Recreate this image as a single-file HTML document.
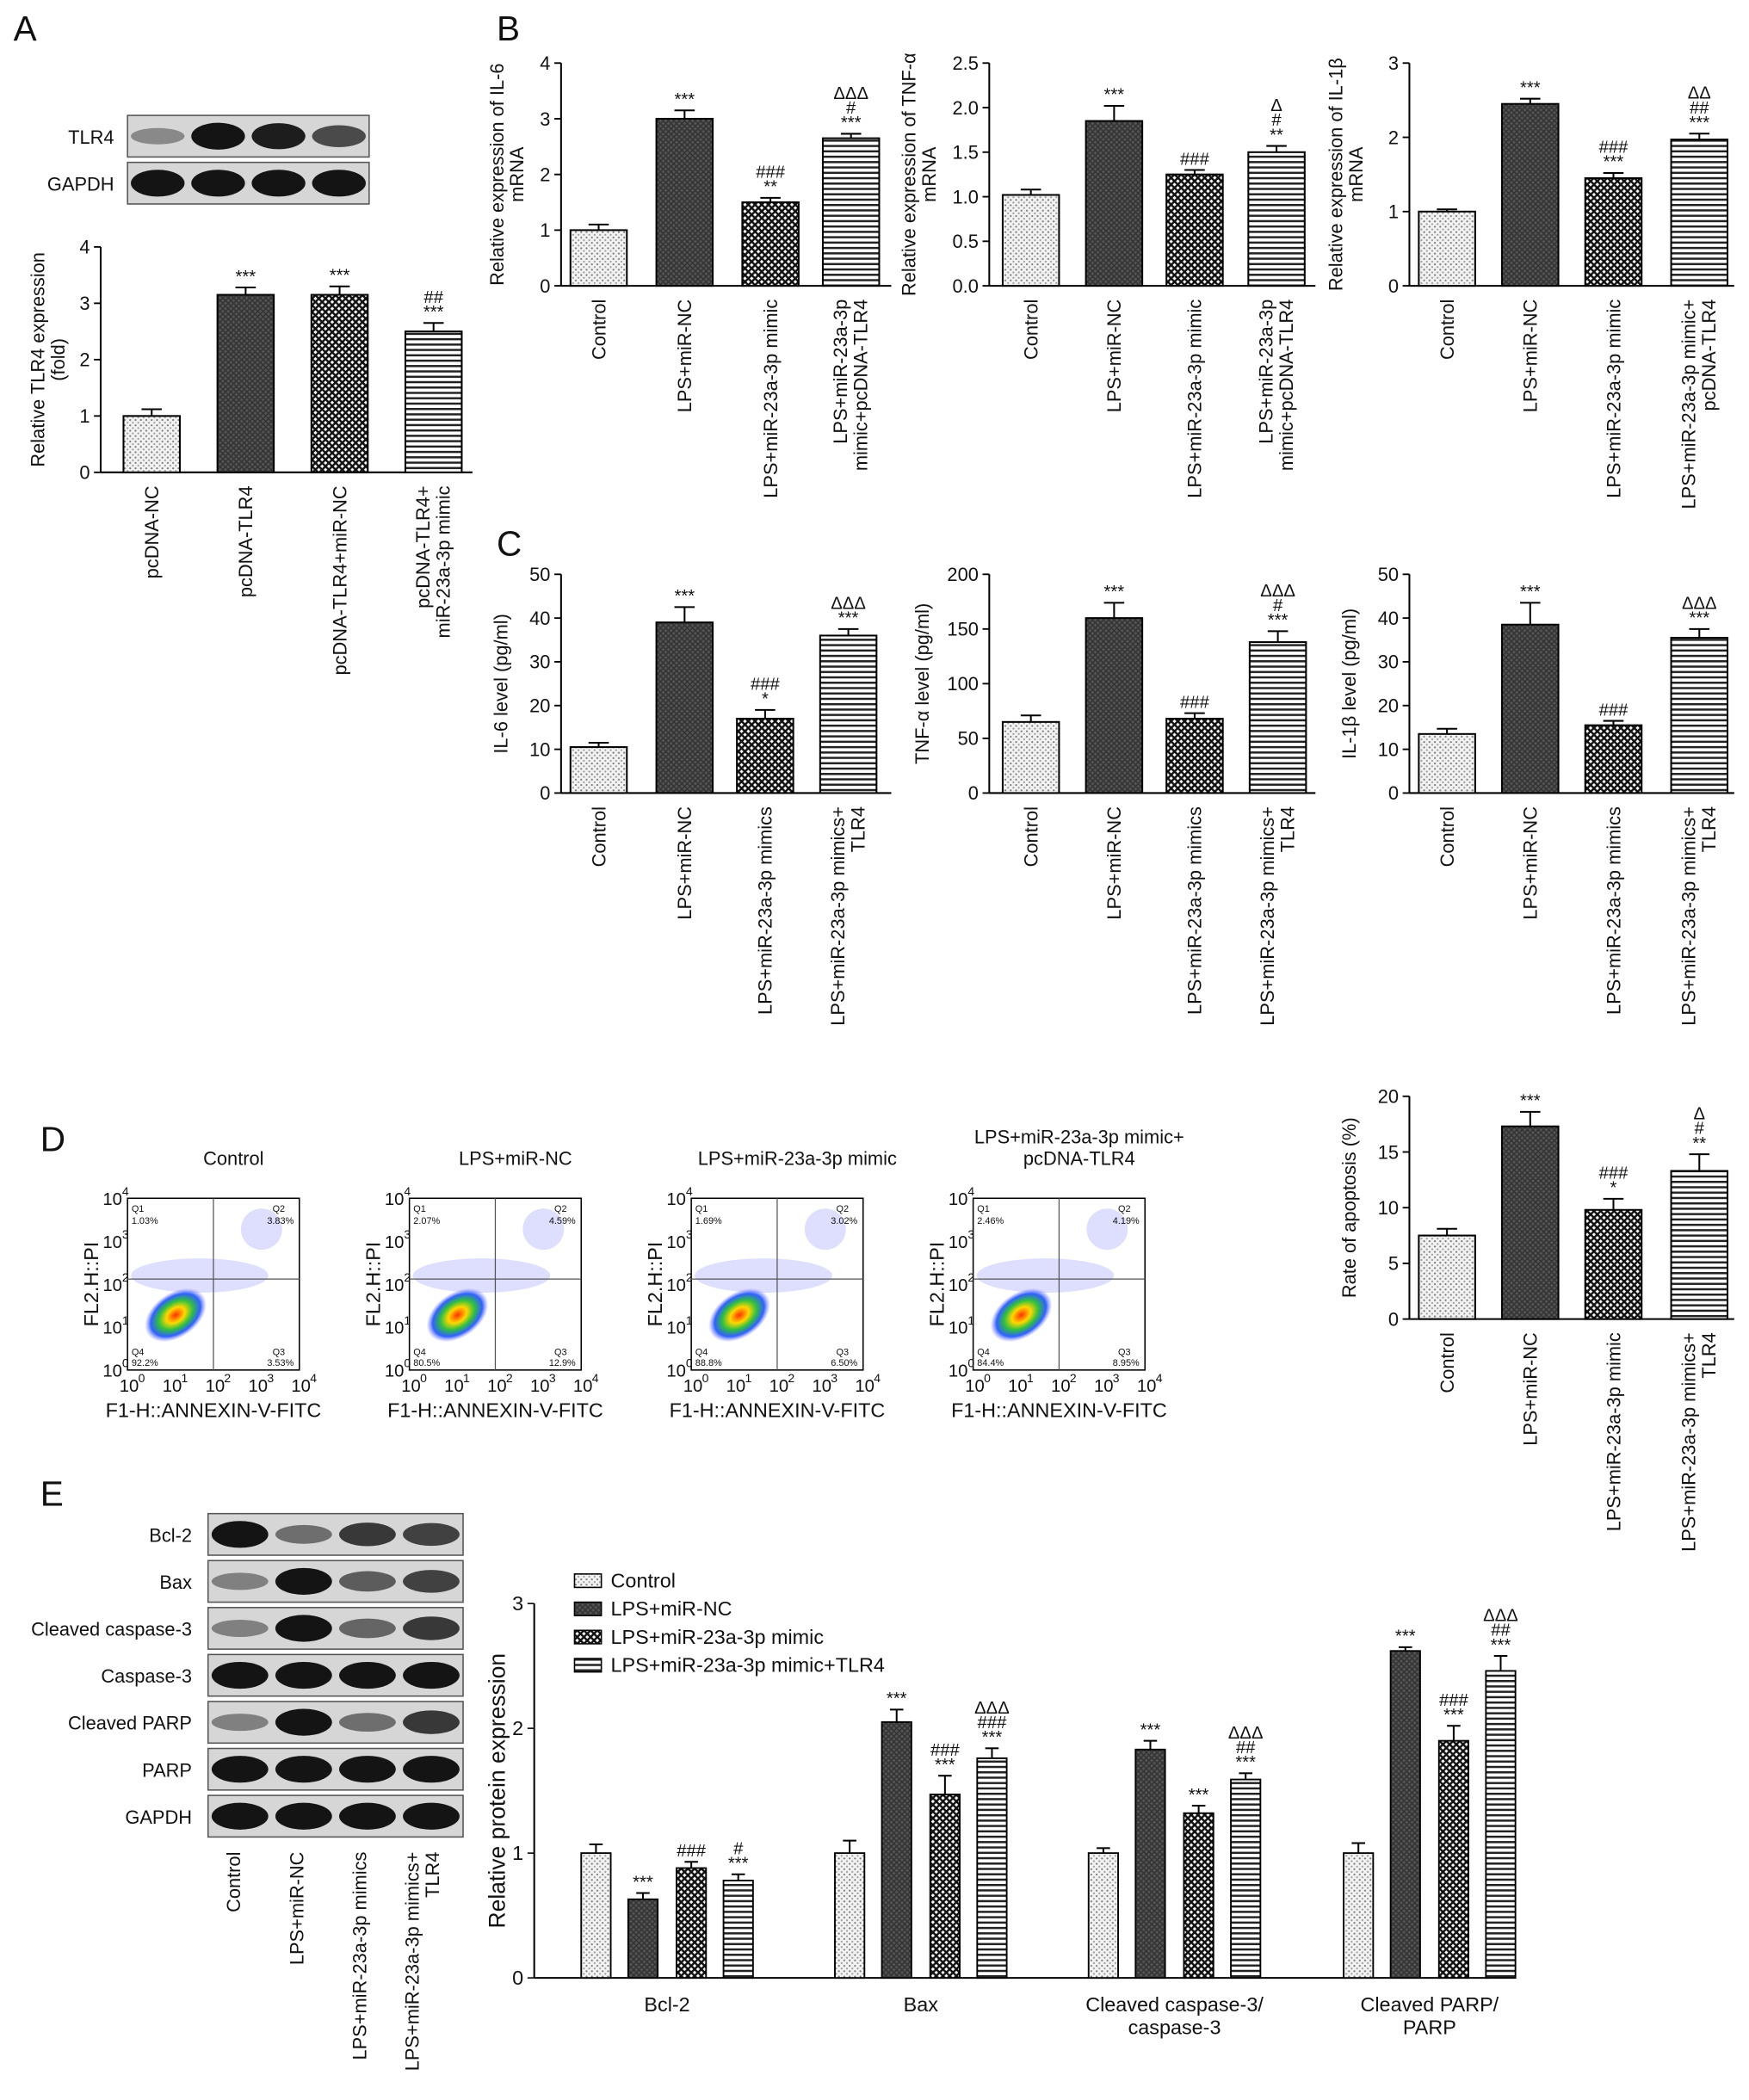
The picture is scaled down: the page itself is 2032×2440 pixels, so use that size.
<!DOCTYPE html>
<html><head><meta charset="utf-8"><style>
html,body{margin:0;padding:0;background:#fff;}
svg{display:block;font-family:"Liberation Sans",Arial,sans-serif;}
</style></head><body>
<svg id="fig" width="2032" height="2440" viewBox="0 0 1303 1565" preserveAspectRatio="none" xmlns="http://www.w3.org/2000/svg">
<defs>
<pattern id="pDots" width="4" height="4" patternUnits="userSpaceOnUse"><rect width="4" height="4" fill="#f2f2f2"/><circle cx="1" cy="1" r="0.7" fill="#777"/><circle cx="3" cy="3" r="0.7" fill="#999"/></pattern>
<pattern id="pDark" width="4" height="4" patternUnits="userSpaceOnUse"><rect width="4" height="4" fill="#555"/><path d="M0 0L4 4M4 0L0 4" stroke="#333" stroke-width="1"/></pattern>
<pattern id="pCheck" width="5" height="5" patternUnits="userSpaceOnUse"><rect width="5" height="5" fill="#fff"/><path d="M0 0L5 5M5 0L0 5" stroke="#111" stroke-width="1.6"/></pattern>
<pattern id="pLines" width="4" height="4" patternUnits="userSpaceOnUse"><rect width="4" height="4" fill="#fff"/><rect y="0" width="4" height="1.6" fill="#222"/></pattern>
<radialGradient id="blob"><stop offset="0" stop-color="#ff3000"/><stop offset="0.3" stop-color="#ffd800"/><stop offset="0.55" stop-color="#30c040"/><stop offset="0.8" stop-color="#3060ff"/><stop offset="1" stop-color="#8080ff" stop-opacity="0"/></radialGradient>
</defs>
</svg>
<script>
// ---- data ----
const fills=['url(#pDots)','url(#pDark)','url(#pCheck)','url(#pLines)'];
const aCats=['pcDNA-NC','pcDNA-TLR4','pcDNA-TLR4+miR-NC','pcDNA-TLR4+|miR-23a-3p mimic'];
const aVals=[1.0,3.15,3.15,2.5];
const aErr=[0.12,0.13,0.15,0.15];
const aSig=['','***','***','##|***'];
const bCats1=['Control','LPS+miR-NC','LPS+miR-23a-3p mimic','LPS+miR-23a-3p|mimic+pcDNA-TLR4'];
const bCats2=['Control','LPS+miR-NC','LPS+miR-23a-3p mimic','LPS+miR-23a-3p|mimic+pcDNA-TLR4'];
const bCats3=['Control','LPS+miR-NC','LPS+miR-23a-3p mimic','LPS+miR-23a-3p mimic+|pcDNA-TLR4'];
const b1Vals=[1.0,3.0,1.5,2.65]; const b1Err=[0.1,0.15,0.08,0.08]; const b1Sig=['','***','###|**','ΔΔΔ|#|***'];
const b2Vals=[1.02,1.85,1.25,1.5]; const b2Err=[0.06,0.17,0.05,0.07]; const b2Sig=['','***','###','Δ|#|**'];
const b3Vals=[1.0,2.45,1.45,1.97]; const b3Err=[0.03,0.07,0.07,0.08]; const b3Sig=['','***','###|***','ΔΔ|##|***'];
const cCats=['Control','LPS+miR-NC','LPS+miR-23a-3p mimics','LPS+miR-23a-3p mimics+|TLR4'];
const c1Vals=[10.5,39,17,36]; const c1Err=[1,3.5,2,1.5]; const c1Sig=['','***','###|*','ΔΔΔ|***'];
const c2Vals=[65,160,68,138]; const c2Err=[6,14,5,10]; const c2Sig=['','***','###','ΔΔΔ|#|***'];
const c3Vals=[13.5,38.5,15.5,35.5]; const c3Err=[1.2,5,1,2]; const c3Sig=['','***','###','ΔΔΔ|***'];
const dCats=['Control','LPS+miR-NC','LPS+miR-23a-3p mimic','LPS+miR-23a-3p mimics+|TLR4'];
const dVals=[7.5,17.3,9.8,13.3]; const dErr=[0.6,1.3,1.0,1.5]; const dSig=['','***','###|*','Δ|#|**'];
const eGroups=['Bcl-2','Bax','Cleaved caspase-3/|caspase-3','Cleaved PARP/|PARP'];
const eSeries=['Control','LPS+miR-NC','LPS+miR-23a-3p mimic','LPS+miR-23a-3p mimic+TLR4'];
const eVals=[[1.0,1.0,1.0,1.0],[0.63,2.05,1.83,2.62],[0.88,1.47,1.32,1.9],[0.78,1.76,1.59,2.46]];
const eErr=[[0.07,0.1,0.04,0.08],[0.05,0.1,0.07,0.03],[0.05,0.15,0.06,0.12],[0.05,0.08,0.05,0.12]];
const eSig=[['','','',''],['***','***','***','***'],['###','###|***','***','###|***'],['#|***','ΔΔΔ|###|***','ΔΔΔ|##|***','ΔΔΔ|##|***']];
const flowTitles=['Control','LPS+miR-NC','LPS+miR-23a-3p mimic','LPS+miR-23a-3p mimic+|pcDNA-TLR4'];
const flowQ=[['1.03%','3.83%','3.53%','92.2%'],['2.07%','4.59%','12.9%','80.5%'],['1.69%','3.02%','6.50%','88.8%'],['2.46%','4.19%','8.95%','84.4%']];
const aBlotRows=['TLR4','GAPDH'];
const aBlot=[[0.35,1,0.95,0.7],[1,1,1,1]];
const eBlotRows=['Bcl-2','Bax','Cleaved caspase-3','Caspase-3','Cleaved PARP','PARP','GAPDH'];
const eBlot=[[1,0.5,0.8,0.75],[0.4,1,0.6,0.75],[0.4,1,0.55,0.8],[1,1,1,1],[0.4,1,0.5,0.8],[1,1,1,1],[1,1,1,1]];
const eBlotCats=['Control','LPS+miR-NC','LPS+miR-23a-3p mimics','LPS+miR-23a-3p mimics+|TLR4'];

const NS='http://www.w3.org/2000/svg';
const root=document.getElementById('fig');
function el(t,a,p){const e=document.createElementNS(NS,t);for(const k in a)e.setAttribute(k,a[k]);(p||root).appendChild(e);return e;}
function txt(x,y,s,a,p){const e=el('text',Object.assign({x:x,y:y,'font-size':13,fill:'#111'},a||{}),p);e.textContent=s;return e;}

function barChart(o){
  const g=el('g',{});
  
  
  const ys=v=>o.y0-(v/o.max)*(o.y0-o.y1);
  el('line',{x1:o.ax,y1:o.y0,x2:o.ax,y2:o.y1,stroke:'#000','stroke-width':1.3},g);
  el('line',{x1:o.ax,y1:o.y0,x2:o.xEnd,y2:o.y0,stroke:'#000','stroke-width':1.3},g);
  for(let v=0;v<=o.max+1e-9;v+=o.step){
    const y=ys(v);
    el('line',{x1:o.ax-5,y1:y,x2:o.ax,y2:y,stroke:'#000','stroke-width':1.2},g);
    const t=txt(o.ax-8,y+5,o.dec?v.toFixed(1):String(Math.round(v)),{'text-anchor':'end','font-size':14},g);
    
    
  }
  const yl=o.ylabel.split('|');
  yl.forEach((s,i)=>{
    const yx=o.ylx+i*15, yy=(o.y0+o.y1)/2;
    const t=txt(yx,yy,s,{'text-anchor':'middle','font-size':14,transform:`rotate(-90 ${yx} ${yy})`},g);
    
    
  });
  o.vals.forEach((v,i)=>{
    const cx=o.cx[i], w=o.bw, y=ys(v), ye=ys(v+o.err[i]);
    el('line',{x1:cx,y1:y,x2:cx,y2:ye,stroke:'#000','stroke-width':1.3},g);
    el('line',{x1:cx-w*0.18,y1:ye,x2:cx+w*0.18,y2:ye,stroke:'#000','stroke-width':1.3},g);
    const r=el('rect',{x:cx-w/2,y:y,width:w,height:o.y0-y,fill:fills[i],stroke:'#000','stroke-width':1.3},g);
    
    
    const sg=o.sig[i]?o.sig[i].split('|'):[];
    sg.forEach((s,k)=>{const st=txt(cx,ye-4-(sg.length-1-k)*11,s,{'text-anchor':'middle','font-size':13},g);
      });
    const lines=o.cats[i].split('|');
    lines.forEach((s,k)=>{
      const lx=cx+5+(k-(lines.length-1))*15+ (lines.length>1?7:0), ly=o.y0+10;
      const t=txt(lx,ly,s,{'text-anchor':'end','font-size':14,transform:`rotate(-90 ${lx} ${ly})`},g);
      
      
    });
  });
}
function panelLabel(s,x,y){const t=txt(x,y,s,{'font-size':26});}
panelLabel('A',10,30);panelLabel('B',370,30);panelLabel('C',370,414);panelLabel('D',30,858);panelLabel('E',30,1122);

function blot(x,y,w,rows,vals,labelX,name){
  rows.forEach((r,i)=>{
    const ry=y+i*35;
    const g=el('g',{});
    
    
    el('rect',{x:x,y:ry,width:w,height:31,fill:'#d6d6d6',stroke:'#555','stroke-width':1},g);
    vals[i].forEach((v,k)=>{
      const cx=x+w*(k+0.5)/4;
      const sh=Math.round(200-180*v);
      el('ellipse',{cx:cx,cy:ry+15.5,rx:w/9,ry:4+6*v,fill:`rgb(${sh},${sh},${sh})`},g);
    });
    txt(labelX,ry+21,r,{'text-anchor':'end','font-size':14},g);
  });
}
blot(95,86,180,aBlotRows,aBlot,85,'blot-a');
blot(155,1128,190,eBlotRows,eBlot,143,'blot-e');
eBlotCats.forEach((c,i)=>{const lines=c.split('|');lines.forEach((s,k)=>{const cx=179+i*47+(k-(lines.length-1))*15+(lines.length>1?7:0),ly=1380;
  const t=txt(cx,ly,s,{'text-anchor':'end','font-size':14,transform:`rotate(-90 ${cx} ${ly})`});});});

barChart({name:'chart-a-tlr4',ax:75,xEnd:352,y0:352,y1:184,max:4,step:1,cx:[113,183,253,323],bw:42,vals:aVals,err:aErr,sig:aSig,cats:aCats,ylabel:'Relative TLR4 expression|(fold)',ylx:33});
barChart({name:'chart-b-il6-mrna',ax:418,xEnd:664,y0:213,y1:47,max:4,step:1,cx:[446,510,574,634],bw:42,vals:b1Vals,err:b1Err,sig:b1Sig,cats:bCats1,ylabel:'Relative expression of IL-6|mRNA',ylx:375});
barChart({name:'chart-b-tnfa-mrna',ax:737,xEnd:980,y0:213,y1:47,max:2.5,step:0.5,dec:true,cx:[768,830,890,951],bw:42,vals:b2Vals,err:b2Err,sig:b2Sig,cats:bCats2,ylabel:'Relative expression of TNF-α|mRNA',ylx:682});
barChart({name:'chart-b-il1b-mrna',ax:1050,xEnd:1292,y0:213,y1:47,max:3,step:1,cx:[1078,1140,1202,1266],bw:42,vals:b3Vals,err:b3Err,sig:b3Sig,cats:bCats3,ylabel:'Relative expression of IL-1β|mRNA',ylx:1000});
barChart({name:'chart-c-il6',ax:418,xEnd:664,y0:591,y1:428,max:50,step:10,cx:[446,510,570,632],bw:42,vals:c1Vals,err:c1Err,sig:c1Sig,cats:cCats,ylabel:'IL-6 level (pg/ml)',ylx:378});
barChart({name:'chart-c-tnfa',ax:737,xEnd:980,y0:591,y1:428,max:200,step:50,cx:[768,830,890,952],bw:42,vals:c2Vals,err:c2Err,sig:c2Sig,cats:cCats,ylabel:'TNF-α level (pg/ml)',ylx:692});
barChart({name:'chart-c-il1b',ax:1050,xEnd:1292,y0:591,y1:428,max:50,step:10,cx:[1078,1140,1202,1266],bw:42,vals:c3Vals,err:c3Err,sig:c3Sig,cats:cCats,ylabel:'IL-1β level (pg/ml)',ylx:1010});
barChart({name:'chart-d-apoptosis',ax:1050,xEnd:1292,y0:983,y1:817,max:20,step:5,cx:[1078,1140,1202,1266],bw:42,vals:dVals,err:dErr,sig:dSig,cats:dCats,ylabel:'Rate of apoptosis (%)',ylx:1010});

// Flow plots
flowTitles.forEach((t,i)=>{
  const x0=95+i*210, y0=893, s=128;
  const g=el('g',{});
  
  
  t.split('|').forEach((l,k,a)=>txt(x0+s/2+15,y0-25+(k-(a.length-1))*16+ (a.length>1?0:0),l,{'text-anchor':'middle','font-size':14},g));
  el('rect',{x:x0,y:y0,width:s,height:s,fill:'#fff',stroke:'#000','stroke-width':1},g);
  for(let k=0;k<60;k++){ /* scatter noise drawn from fixed lattice */ }
  el('ellipse',{cx:x0+s*0.42,cy:y0+s*0.45,rx:s*0.4,ry:s*0.1,fill:'#c8c8ff',opacity:0.6},g);
  el('ellipse',{cx:x0+s*0.78,cy:y0+s*0.18,rx:s*0.12,ry:s*0.12,fill:'#c8c8ff',opacity:0.6},g);
  el('ellipse',{cx:x0+s*0.28,cy:y0+s*0.68,rx:s*0.2,ry:s*0.13,fill:'url(#blob)',transform:`rotate(-35 ${x0+s*0.28} ${y0+s*0.68})`},g);
  el('line',{x1:x0+s*0.5,y1:y0,x2:x0+s*0.5,y2:y0+s,stroke:'#555','stroke-width':0.8},g);
  el('line',{x1:x0,y1:y0+s*0.47,x2:x0+s,y2:y0+s*0.47,stroke:'#555','stroke-width':0.8},g);
  txt(x0+3,y0+10,'Q1',{'font-size':7},g);txt(x0+3,y0+19,flowQ[i][0],{'font-size':7},g);
  txt(x0+s-20,y0+10,'Q2',{'font-size':7},g);txt(x0+s-24,y0+19,flowQ[i][1],{'font-size':7},g);
  txt(x0+s-20,y0+s-11,'Q3',{'font-size':7},g);txt(x0+s-24,y0+s-3,flowQ[i][2],{'font-size':7},g);
  txt(x0+3,y0+s-11,'Q4',{'font-size':7},g);txt(x0+3,y0+s-3,flowQ[i][3],{'font-size':7},g);
  for(let k=0;k<=4;k++){
    txt(x0-4,y0+s-k*s/4+5,'10',{'text-anchor':'end','font-size':13},g);
    txt(x0-4,y0+s-k*s/4-2,String(k),{'font-size':9},g);
    txt(x0+k*s/4-6,y0+s+16,'10',{'font-size':13},g);
    txt(x0+k*s/4+8,y0+s+9,String(k),{'font-size':9},g);
  }
  txt(x0-22,y0+s/2,'FL2.H::PI',{'text-anchor':'middle','font-size':15,transform:`rotate(-90 ${x0-22} ${y0+s/2})`},g);
  txt(x0+s/2,y0+s+35,'F1-H::ANNEXIN-V-FITC',{'text-anchor':'middle','font-size':15},g);
});

// Chart E grouped
(function(){
  const ax=398,y0=1474,y1=1195,max=3,xEnd=1110;
  const ys=v=>y0-(v/max)*(y0-y1);
  const gcx=[497,686,875,1065], bw=22, off=[-53,-18,18,53];
  const g=el('g',{});
  
  
  el('line',{x1:ax,y1:y0,x2:ax,y2:y1,stroke:'#000','stroke-width':1.3},g);
  el('line',{x1:ax,y1:y0,x2:xEnd,y2:y0,stroke:'#000','stroke-width':1.3},g);
  for(let v=0;v<=max;v++){el('line',{x1:ax-5,y1:ys(v),x2:ax,y2:ys(v),stroke:'#000'},g);txt(ax-8,ys(v)+5,String(v),{'text-anchor':'end','font-size':15},g);}
  txt(376,(y0+y1)/2,'Relative protein expression',{'text-anchor':'middle','font-size':17,transform:`rotate(-90 376 ${(y0+y1)/2})`},g);
  eGroups.forEach((gn,gi)=>{
    gn.split('|').forEach((l,k)=>txt(gcx[gi],y0+25+k*17,l,{'text-anchor':'middle','font-size':15},g));
    eSeries.forEach((sn,si)=>{
      const v=eVals[si][gi],cx=gcx[gi]+off[si],y=ys(v),ye=ys(v+eErr[si][gi]);
      el('line',{x1:cx,y1:y,x2:cx,y2:ye,stroke:'#000','stroke-width':1.3},g);
      el('line',{x1:cx-5,y1:ye,x2:cx+5,y2:ye,stroke:'#000','stroke-width':1.3},g);
      const r=el('rect',{x:cx-bw/2,y:y,width:bw,height:y0-y,fill:fills[si],stroke:'#000','stroke-width':1.2},g);
      
      
      const sg=eSig[si][gi]?eSig[si][gi].split('|'):[];
      sg.forEach((s,k)=>txt(cx,ye-4-(sg.length-1-k)*11,s,{'text-anchor':'middle','font-size':13},g));
    });
  });
  eSeries.forEach((sn,si)=>{
    const lg=el('g',{},g);
    
    
    el('rect',{x:428,y:1173+si*21,width:20,height:10,fill:fills[si],stroke:'#000'},lg);
    txt(455,1183+si*21,sn,{'font-size':15},lg);
  });
})();
</script>
</body></html>
